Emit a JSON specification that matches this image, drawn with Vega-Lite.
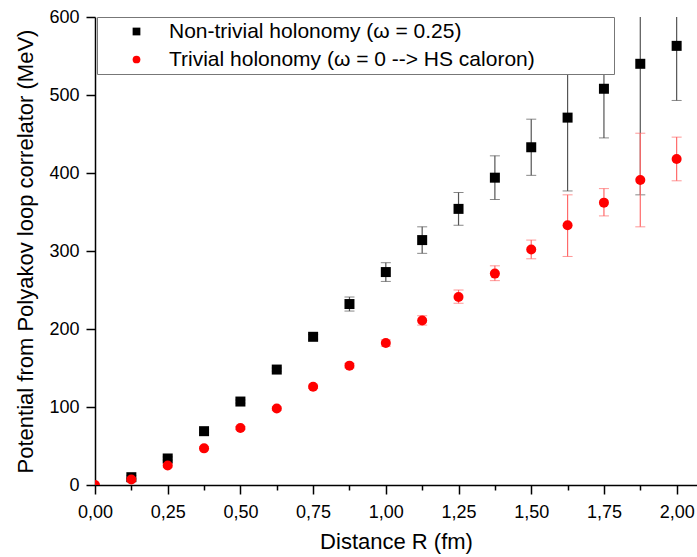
{
  "$schema": "https://vega.github.io/schema/vega-lite/v6.json",
  "width": 602,
  "height": 468,
  "autosize": {"type": "none"},
  "padding": {"left": 95, "top": 17, "right": 0, "bottom": 72},
  "background": "white",
  "config": {
    "locale": {"number": {"decimal": ",", "thousands": ".", "grouping": [3], "currency": ["", " €"]}},
    "view": {"stroke": null},
    "font": "Liberation Sans",
    "axis": {"grid": false, "domainColor": "black", "tickColor": "black", "labelColor": "black", "titleColor": "black", "labelFont": "Liberation Sans", "titleFont": "Liberation Sans", "titleFontWeight": "normal", "domainWidth": 1.5, "tickWidth": 1.5}
  },
  "data": {
    "values": [
      {"R": 0.125, "V": 10, "lo": 8, "hi": 12, "series": "Non-trivial holonomy (ω = 0.25)"},
      {"R": 0.25, "V": 34, "lo": 32, "hi": 36, "series": "Non-trivial holonomy (ω = 0.25)"},
      {"R": 0.375, "V": 69, "lo": 67, "hi": 71, "series": "Non-trivial holonomy (ω = 0.25)"},
      {"R": 0.5, "V": 107, "lo": 105, "hi": 109, "series": "Non-trivial holonomy (ω = 0.25)"},
      {"R": 0.625, "V": 148, "lo": 146, "hi": 150, "series": "Non-trivial holonomy (ω = 0.25)"},
      {"R": 0.75, "V": 190, "lo": 187, "hi": 193, "series": "Non-trivial holonomy (ω = 0.25)"},
      {"R": 0.875, "V": 232, "lo": 223, "hi": 241, "series": "Non-trivial holonomy (ω = 0.25)"},
      {"R": 1.0, "V": 273, "lo": 261, "hi": 285, "series": "Non-trivial holonomy (ω = 0.25)"},
      {"R": 1.125, "V": 314, "lo": 297, "hi": 331, "series": "Non-trivial holonomy (ω = 0.25)"},
      {"R": 1.25, "V": 354, "lo": 333, "hi": 375, "series": "Non-trivial holonomy (ω = 0.25)"},
      {"R": 1.375, "V": 394, "lo": 366, "hi": 422, "series": "Non-trivial holonomy (ω = 0.25)"},
      {"R": 1.5, "V": 433, "lo": 397, "hi": 469, "series": "Non-trivial holonomy (ω = 0.25)"},
      {"R": 1.625, "V": 471, "lo": 377, "hi": 565, "series": "Non-trivial holonomy (ω = 0.25)"},
      {"R": 1.75, "V": 508, "lo": 445, "hi": 571, "series": "Non-trivial holonomy (ω = 0.25)"},
      {"R": 1.875, "V": 540, "lo": 372, "hi": 708, "series": "Non-trivial holonomy (ω = 0.25)"},
      {"R": 2.0, "V": 563, "lo": 493, "hi": 633, "series": "Non-trivial holonomy (ω = 0.25)"},
      {"R": 0.0, "V": 0, "lo": 0, "hi": 0, "series": "Trivial holonomy (ω = 0 --> HS caloron)"},
      {"R": 0.125, "V": 7, "lo": 5, "hi": 9, "series": "Trivial holonomy (ω = 0 --> HS caloron)"},
      {"R": 0.25, "V": 25, "lo": 23, "hi": 27, "series": "Trivial holonomy (ω = 0 --> HS caloron)"},
      {"R": 0.375, "V": 47, "lo": 45, "hi": 49, "series": "Trivial holonomy (ω = 0 --> HS caloron)"},
      {"R": 0.5, "V": 73, "lo": 71, "hi": 75, "series": "Trivial holonomy (ω = 0 --> HS caloron)"},
      {"R": 0.625, "V": 98, "lo": 96, "hi": 100, "series": "Trivial holonomy (ω = 0 --> HS caloron)"},
      {"R": 0.75, "V": 126, "lo": 124, "hi": 128, "series": "Trivial holonomy (ω = 0 --> HS caloron)"},
      {"R": 0.875, "V": 153, "lo": 150, "hi": 156, "series": "Trivial holonomy (ω = 0 --> HS caloron)"},
      {"R": 1.0, "V": 182, "lo": 178, "hi": 186, "series": "Trivial holonomy (ω = 0 --> HS caloron)"},
      {"R": 1.125, "V": 211, "lo": 205, "hi": 217, "series": "Trivial holonomy (ω = 0 --> HS caloron)"},
      {"R": 1.25, "V": 241, "lo": 233, "hi": 250, "series": "Trivial holonomy (ω = 0 --> HS caloron)"},
      {"R": 1.375, "V": 271, "lo": 262, "hi": 281, "series": "Trivial holonomy (ω = 0 --> HS caloron)"},
      {"R": 1.5, "V": 302, "lo": 290, "hi": 314, "series": "Trivial holonomy (ω = 0 --> HS caloron)"},
      {"R": 1.625, "V": 333, "lo": 293, "hi": 372, "series": "Trivial holonomy (ω = 0 --> HS caloron)"},
      {"R": 1.75, "V": 362, "lo": 345, "hi": 380, "series": "Trivial holonomy (ω = 0 --> HS caloron)"},
      {"R": 1.875, "V": 391, "lo": 331, "hi": 451, "series": "Trivial holonomy (ω = 0 --> HS caloron)"},
      {"R": 2.0, "V": 418, "lo": 390, "hi": 446, "series": "Trivial holonomy (ω = 0 --> HS caloron)"}
    ]
  },
  "encoding": {
    "x": {
      "field": "R", "type": "quantitative",
      "title": "Distance R (fm)",
      "scale": {"domain": [0, 2.07], "nice": false, "zero": false},
      "axis": {
        "title": "Distance R (fm)", "titleFontSize": 22, "titlePadding": 10,
        "labelFontSize": 18, "labelPadding": 9, "format": ".2f",
        "values": [0, 0.125, 0.25, 0.375, 0.5, 0.625, 0.75, 0.875, 1, 1.125, 1.25, 1.375, 1.5, 1.625, 1.75, 1.875, 2],
        "labelExpr": "round(datum.value * 1000) % 250 === 0 ? datum.label : ''",
        "tickSize": {"condition": {"test": "round(datum.value * 1000) % 250 === 0", "value": 9}, "value": 5},
        "labelOverlap": false, "labelFlush": false
      }
    }
  },
  "layer": [
    {
      "transform": [{"filter": "datum.series === 'Non-trivial holonomy (ω = 0.25)'"}],
      "mark": {"type": "errorbar", "ticks": {"size": 10, "color": "#555555"}, "rule": {"color": "#555555", "strokeWidth": 1.2}, "clip": true},
      "encoding": {
        "y": {"field": "lo", "type": "quantitative", "title": "Potential from Polyakov loop correlator (MeV)", "scale": {"domain": [0, 600], "nice": false}},
        "y2": {"field": "hi"}
      }
    },
    {
      "transform": [{"filter": "datum.series !== 'Non-trivial holonomy (ω = 0.25)'"}],
      "mark": {"type": "errorbar", "ticks": {"size": 10, "color": "#ff6a6a"}, "rule": {"color": "#ff6a6a", "strokeWidth": 1.2}, "clip": true},
      "encoding": {
        "y": {"field": "lo", "type": "quantitative", "title": "Potential from Polyakov loop correlator (MeV)"},
        "y2": {"field": "hi"}
      }
    },
    {
      "mark": {"type": "point", "filled": true, "opacity": 1, "size": 100, "clip": true},
      "encoding": {
        "y": {
          "field": "V", "type": "quantitative",
          "title": "Potential from Polyakov loop correlator (MeV)",
          "scale": {"domain": [0, 600], "nice": false},
          "axis": {
            "title": "Potential from Polyakov loop correlator (MeV)", "titleFontSize": 22, "titlePadding": 11,
            "labelFontSize": 18, "labelPadding": 7, "format": "d",
            "values": [0, 50, 100, 150, 200, 250, 300, 350, 400, 450, 500, 550, 600],
            "labelExpr": "datum.value % 100 === 0 ? datum.label : ''",
            "tickSize": {"condition": {"test": "datum.value % 100 === 0", "value": 9}, "value": 6},
            "labelOverlap": false
          }
        },
        "color": {
          "field": "series", "type": "nominal",
          "scale": {"domain": ["Non-trivial holonomy (ω = 0.25)", "Trivial holonomy (ω = 0 --> HS caloron)"], "range": ["black", "red"]},
          "legend": {
            "title": null, "orient": "none", "legendX": 2, "legendY": 0,
            "fillColor": "white", "strokeColor": "#777777",
            "padding": 4, "labelFontSize": 21, "labelFont": "Liberation Sans", "labelColor": "black",
            "symbolSize": 60, "symbolOffset": 25, "labelOffset": 22, "rowPadding": 6, "labelLimit": 700,
            "labelExpr": "datum.label + '\u2800\u2800\u2800\u2800\u2800'"
          }
        },
        "shape": {
          "field": "series", "type": "nominal",
          "scale": {"domain": ["Non-trivial holonomy (ω = 0.25)", "Trivial holonomy (ω = 0 --> HS caloron)"], "range": ["square", "circle"]},
          "legend": null
        }
      }
    }
  ]
}
